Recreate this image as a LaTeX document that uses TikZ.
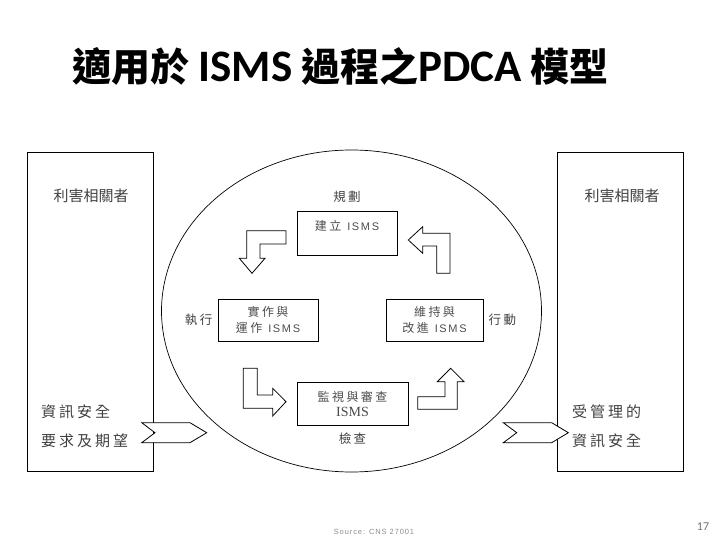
\documentclass[tikz,border=0pt]{standalone}
\usepackage{fontspec}
\setmainfont{Liberation Serif}
\newfontfamily\cjk{Noto Sans CJK TC}
\newfontfamily\cjkwide[LetterSpace=20]{Noto Sans CJK TC}
\newfontfamily\titlelatin{Carlito}
\newfontfamily\srcfont[LetterSpace=12]{Liberation Sans}
\newfontfamily\boxlatin[LetterSpace=15]{Liberation Sans}
\usetikzlibrary{positioning}

\begin{document}
\begin{tikzpicture}[x=1bp,y=-1bp,
  frame/.style={draw=black,line width=0.8bp,minimum width=126bp,minimum height=319bp,inner sep=0pt},
  stagebox/.style={draw=black,line width=0.8bp,inner sep=0pt,align=center,text=black!70,font=\fontsize{12bp}{16bp}\selectfont},
  phase/.style={text=black!75,inner sep=1bp,font=\cjkwide\fontsize{12.5bp}{14bp}\selectfont},
  sidetxt/.style={text=black!75,inner sep=0pt,anchor=west,font=\cjkwide\fontsize{15bp}{18bp}\selectfont},
  blockarrow/.style={draw=black,line width=0.8bp,fill=white,line join=miter}]

\useasboundingbox (0,0) rectangle (720,540);

% title
\node[inner sep=0pt] (title) at (340.5,66)
  {\cjk\bfseries\fontsize{39bp}{44bp}\selectfont 適用於 {\titlelatin\fontsize{45bp}{44bp}\selectfont ISMS} 過程之{\titlelatin\fontsize{45bp}{44bp}\selectfont PDCA} 模型};

% interested parties
\node[frame] (partyL) at (90,311.5) {};
\node[frame] (partyR) at (620.5,311.5) {};
\node[text=black!75,font=\cjk\fontsize{15bp}{18bp}\selectfont] (partyLname) at (91,196) {利害相關者};
\node[text=black!75,font=\cjk\fontsize{15bp}{18bp}\selectfont] (partyRname) at (622,196) {利害相關者};

\node[sidetxt] (reqA) at (41,412) {資訊安全};
\node[sidetxt] (reqB) at (41,441) {要求及期望};
\node[sidetxt] (outA) at (572,412) {受管理的};
\node[sidetxt] (outB) at (572,441) {資訊安全};

% ISMS cycle
\draw[line width=0.7bp] (351.5,311) ellipse [x radius=190bp, y radius=161bp];

\node[stagebox,minimum width=100bp,minimum height=44bp,text height=14bp,text depth=18bp,inner ysep=6bp] (plan) at (347,233)
  {{\cjkwide 建立}\hspace{6bp}{\boxlatin\fontsize{11bp}{16bp}\selectfont ISMS}};
\node[stagebox,minimum width=100bp,minimum height=42bp] (do) at (268,320)
  {{\cjkwide 實作與}\\{\cjkwide 運作}\hspace{6bp}{\boxlatin\fontsize{11bp}{16bp}\selectfont ISMS}};
\node[stagebox,minimum width=97bp,minimum height=42bp] (act) at (434.5,320)
  {{\cjkwide 維持與}\\{\cjkwide 改進}\hspace{6bp}{\boxlatin\fontsize{11bp}{16bp}\selectfont ISMS}};
\node[stagebox,minimum width=111bp,minimum height=43bp] (check) at (352.5,403.5)
  {{\cjkwide 監視與審查}\\[-1bp]{\fontsize{14bp}{16bp}\selectfont ISMS}};

\node[phase,above=7bp of plan] (planlbl) {規劃};
\node[phase,left=4bp of do] (dolbl) {執行};
\node[phase,right=4bp of act] (actlbl) {行動};
\node[phase,below=6bp of check] (checklbl) {檢查};

% block arrows
\draw[blockarrow] (286,230.7) -- (286,244) -- (260,244) -- (260,258.3) -- (265,258.3)
  -- (252,273.3) -- (239.3,258.3) -- (246.7,258.3) -- (246.7,230.7) -- cycle;
\draw[blockarrow] (243.3,368.3) -- (257.3,368.3) -- (257.3,395) -- (272.7,395) -- (272.7,388.3)
  -- (286,401.7) -- (272.7,416) -- (272.7,408.3) -- (243.3,408.3) -- cycle;
\draw[blockarrow] (417.7,396.7) -- (445,396.7) -- (445,381.7) -- (437.3,381.7) -- (450.7,368.3)
  -- (464,381.7) -- (457.3,381.7) -- (457.3,409.3) -- (417.7,409.3) -- cycle;
\draw[blockarrow] (450,273.3) -- (450,233.3) -- (422.7,233.3) -- (422.7,226.7) -- (408.3,240)
  -- (422.7,253.3) -- (422.7,246) -- (436.7,246) -- (436.7,273.3) -- cycle;

% inputs and outputs
\draw[blockarrow] (141.7,422.7) -- (190,422.7) -- (206.7,432.7) -- (190,442.7) -- (141.7,442.7) -- (155,432.7) -- cycle;
\draw[blockarrow] (503.3,422.7) -- (551.7,422.7) -- (568.3,432.7) -- (551.7,442.7) -- (503.3,442.7) -- (516.7,432.7) -- cycle;

% footer
\node[text=black!45,font=\srcfont\fontsize{7.5bp}{9bp}\selectfont] (source) at (374,532) {Source: CNS 27001};
\node[text=black!55,font=\titlelatin\fontsize{12bp}{14bp}\selectfont] (pageno) at (703,527) {17};
\end{tikzpicture}
\end{document}
